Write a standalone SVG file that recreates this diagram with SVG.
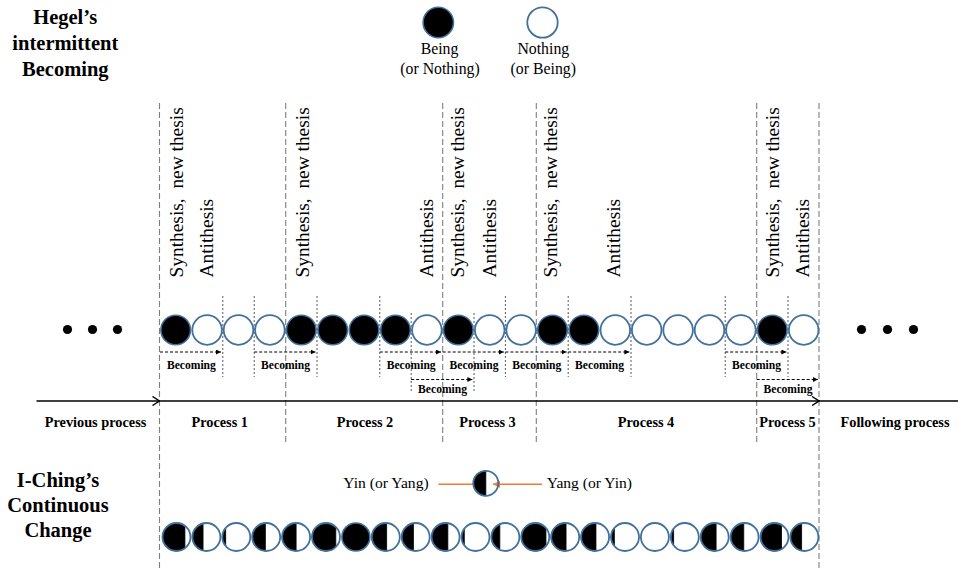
<svg xmlns="http://www.w3.org/2000/svg" width="958" height="571" viewBox="0 0 958 571">
<defs>
<style>
.title{font-family:"Liberation Serif","Times New Roman",serif;font-weight:bold;font-size:20.5px;text-anchor:middle;fill:#000}
.leg{font-family:"Liberation Serif","Times New Roman",serif;font-size:15.8px;text-anchor:middle;fill:#000}
.vt{font-family:"Liberation Serif","Times New Roman",serif;font-size:19.4px;fill:#000;white-space:pre}
.bec{font-family:"Liberation Serif","Times New Roman",serif;font-weight:bold;font-size:11.6px;text-anchor:middle;fill:#000}
.proc{font-family:"Liberation Serif","Times New Roman",serif;font-weight:bold;font-size:14.3px;text-anchor:middle;fill:#000}
.yy{font-family:"Liberation Serif","Times New Roman",serif;font-size:15.6px;fill:#000}
.pl{stroke:#7f7f7f;stroke-width:1.1;stroke-dasharray:6 3;fill:none}
.dl{stroke:#595959;stroke-width:1;stroke-dasharray:2 2;fill:none}
.ba{stroke:#000;stroke-width:1;stroke-dasharray:3 2;fill:none;marker-end:url(#tri)}
.cb{fill:#000;stroke:#41719C;stroke-width:1.6}
.cw{fill:#fff;stroke:#41719C;stroke-width:1.8}
.mo{fill:none;stroke:#41719C;stroke-width:1.8}
.mb{fill:#000;stroke:#000;stroke-width:0.8}
</style>
<marker id="tri" viewBox="0 0 6 6" refX="6" refY="3" markerWidth="5" markerHeight="5" markerUnits="userSpaceOnUse" orient="auto"><path d="M0,0 L6,3 L0,6 Z" fill="#000"/></marker>
<marker id="chev" viewBox="0 0 8 10" refX="7.5" refY="5" markerWidth="8" markerHeight="10" markerUnits="userSpaceOnUse" orient="auto"><path d="M0.5,0.5 L7.5,5 L0.5,9.5" fill="none" stroke="#000" stroke-width="1.4"/></marker>
<marker id="ora" viewBox="0 0 8 8" refX="8" refY="4" markerWidth="7" markerHeight="7" markerUnits="userSpaceOnUse" orient="auto"><path d="M0,0 L8,4 L0,8 Z" fill="#ED7D31"/></marker>
</defs>

<g id="title-hegel">
<text class="title" x="65.3" y="24">Hegel’s</text>
<text class="title" x="65.3" y="50">intermittent</text>
<text class="title" x="65.3" y="76">Becoming</text>
</g>

<g id="legend-being">
<circle cx="438.3" cy="22.5" r="15.2" class="cb"/>
<text class="leg" x="439.5" y="54">Being</text>
<text class="leg" x="440" y="74">(or Nothing)</text>
</g>
<g id="legend-nothing">
<circle cx="542.5" cy="22.5" r="15.2" class="cw"/>
<text class="leg" x="543.3" y="53.5">Nothing</text>
<text class="leg" x="543.3" y="73.5">(or Being)</text>
</g>

<g id="connectors">
<line class="pl" x1="159.5" y1="103" x2="159.5" y2="571"/>
<line class="pl" x1="285.7" y1="103" x2="285.7" y2="442"/>
<line class="pl" x1="442.7" y1="103" x2="442.7" y2="442"/>
<line class="pl" x1="536.3" y1="103" x2="536.3" y2="442"/>
<line class="pl" x1="756.7" y1="103" x2="756.7" y2="442"/>
<line class="pl" x1="819" y1="103" x2="819" y2="571"/>

<line class="dl" x1="222.8" y1="296" x2="222.8" y2="377"/>
<line class="dl" x1="254.2" y1="296" x2="254.2" y2="377"/>
<line class="dl" x1="317" y1="296" x2="317" y2="377"/>
<line class="dl" x1="379.8" y1="296" x2="379.8" y2="377"/>
<line class="dl" x1="411.2" y1="313" x2="411.2" y2="393"/>
<line class="dl" x1="474" y1="313" x2="474" y2="393"/>
<line class="dl" x1="505.4" y1="296" x2="505.4" y2="377"/>
<line class="dl" x1="568.2" y1="296" x2="568.2" y2="377"/>
<line class="dl" x1="631" y1="296" x2="631" y2="377"/>
<line class="dl" x1="725.2" y1="296" x2="725.2" y2="377"/>
<line class="dl" x1="788" y1="296" x2="788" y2="377"/>

<line class="ba" x1="160" y1="352" x2="221" y2="352"/>
<line class="ba" x1="254.2" y1="352" x2="315.5" y2="352"/>
<line class="ba" x1="379.8" y1="352" x2="441" y2="352"/>
<line class="ba" x1="442.7" y1="352" x2="503.8" y2="352"/>
<line class="ba" x1="505.4" y1="352" x2="566.6" y2="352"/>
<line class="ba" x1="568.2" y1="352" x2="629.4" y2="352"/>
<line class="ba" x1="725.2" y1="352" x2="786.4" y2="352"/>
<line class="ba" x1="411.2" y1="379.5" x2="472.4" y2="379.5"/>
<line class="ba" x1="756.7" y1="379.5" x2="817.8" y2="379.5"/>

<line x1="36.5" y1="401" x2="159.5" y2="401" stroke="#000" stroke-width="1.6" marker-end="url(#chev)"/>
<line x1="159.5" y1="401" x2="819" y2="401" stroke="#000" stroke-width="1.6" marker-end="url(#chev)"/>
<line x1="819" y1="401" x2="958" y2="401" stroke="#000" stroke-width="1.6"/>

<line x1="438.5" y1="484.3" x2="479.5" y2="484.3" stroke="#ED7D31" stroke-width="1.6" marker-end="url(#ora)"/>
<line x1="542" y1="484.3" x2="493" y2="484.3" stroke="#ED7D31" stroke-width="1.6" marker-end="url(#ora)"/>
</g>

<g id="stage-labels">
<g transform="translate(183,277.5) rotate(-90)"><text class="vt">Synthesis,  new thesis</text></g>
<g transform="translate(213,277.5) rotate(-90)"><text class="vt">Antithesis</text></g>
<g transform="translate(308.5,277.5) rotate(-90)"><text class="vt">Synthesis,  new thesis</text></g>
<g transform="translate(433,277.5) rotate(-90)"><text class="vt">Antithesis</text></g>
<g transform="translate(464,277.5) rotate(-90)"><text class="vt">Synthesis,  new thesis</text></g>
<g transform="translate(495.5,277.5) rotate(-90)"><text class="vt">Antithesis</text></g>
<g transform="translate(557,277.5) rotate(-90)"><text class="vt">Synthesis,  new thesis</text></g>
<g transform="translate(620,277.5) rotate(-90)"><text class="vt">Antithesis</text></g>
<g transform="translate(778.5,277.5) rotate(-90)"><text class="vt">Synthesis,  new thesis</text></g>
<g transform="translate(808.5,277.5) rotate(-90)"><text class="vt">Antithesis</text></g>
</g>

<g id="ellipsis-left">
<circle cx="67.5" cy="329.5" r="4.6" fill="#000"/>
<circle cx="92.5" cy="329.5" r="4.6" fill="#000"/>
<circle cx="117.5" cy="329.5" r="4.6" fill="#000"/>
</g>
<g id="ellipsis-right">
<circle cx="861.5" cy="329.5" r="4.6" fill="#000"/>
<circle cx="887.5" cy="329.5" r="4.6" fill="#000"/>
<circle cx="913.5" cy="329.5" r="4.6" fill="#000"/>
</g>

<g id="hegel-row">
<circle cx="175.7" cy="330" r="14.8" class="cb"/>
<circle cx="207.1" cy="330" r="14.8" class="cw"/>
<circle cx="238.5" cy="330" r="14.8" class="cw"/>
<circle cx="269.9" cy="330" r="14.8" class="cw"/>
<circle cx="301.3" cy="330" r="14.8" class="cb"/>
<circle cx="332.7" cy="330" r="14.8" class="cb"/>
<circle cx="364.1" cy="330" r="14.8" class="cb"/>
<circle cx="395.5" cy="330" r="14.8" class="cb"/>
<circle cx="426.9" cy="330" r="14.8" class="cw"/>
<circle cx="458.3" cy="330" r="14.8" class="cb"/>
<circle cx="489.7" cy="330" r="14.8" class="cw"/>
<circle cx="521.1" cy="330" r="14.8" class="cw"/>
<circle cx="552.5" cy="330" r="14.8" class="cb"/>
<circle cx="583.9" cy="330" r="14.8" class="cb"/>
<circle cx="615.3" cy="330" r="14.8" class="cw"/>
<circle cx="646.7" cy="330" r="14.8" class="cw"/>
<circle cx="678.1" cy="330" r="14.8" class="cw"/>
<circle cx="709.5" cy="330" r="14.8" class="cw"/>
<circle cx="740.9" cy="330" r="14.8" class="cw"/>
<circle cx="772.3" cy="330" r="14.8" class="cb"/>
<circle cx="803.7" cy="330" r="14.8" class="cw"/>
</g>

<g id="becoming-labels">
<text class="bec" x="191.4" y="369.3">Becoming</text>
<text class="bec" x="285.6" y="369.3">Becoming</text>
<text class="bec" x="411.2" y="369.3">Becoming</text>
<text class="bec" x="474" y="369.3">Becoming</text>
<text class="bec" x="536.8" y="369.3">Becoming</text>
<text class="bec" x="599.6" y="369.3">Becoming</text>
<text class="bec" x="756.6" y="369.3">Becoming</text>
<text class="bec" x="442.6" y="393.3">Becoming</text>
<text class="bec" x="788" y="393.3">Becoming</text>
</g>

<g id="process-labels">
<text class="proc" x="95.5" y="427.3">Previous process</text>
<text class="proc" x="219.7" y="427.3">Process 1</text>
<text class="proc" x="365" y="427.3">Process 2</text>
<text class="proc" x="487.5" y="427.3">Process 3</text>
<text class="proc" x="646" y="427.3">Process 4</text>
<text class="proc" x="787.5" y="427.3">Process 5</text>
<text class="proc" x="895" y="427.3">Following process</text>
</g>

<g id="title-iching">
<text class="title" x="58" y="487">I-Ching’s</text>
<text class="title" x="58" y="512">Continuous</text>
<text class="title" x="58" y="537">Change</text>
</g>

<g id="yin-yang-legend">
<text class="yy" x="343.3" y="488.3">Yin (or Yang)</text>
<g transform="translate(485.8,483.3)"><path class="mb" d="M0,-12.5 A12.5 12.5 0 0 0 0,12.5 Z"/><circle r="12.5" class="mo"/></g>
<text class="yy" x="546.7" y="488.3">Yang (or Yin)</text>
</g>

<g id="iching-row">
<g transform="translate(176.5,537)"><path class="mb" d="M8.4,-11.2 A14 14 0 1 0 8.4,11.2 Z"/><circle r="14" class="mo"/></g>
<g transform="translate(206.4,537)"><path class="mb" d="M-3.36,-13.59 A14 14 0 0 0 -3.36,13.59 Z"/><circle r="14" class="mo"/></g>
<g transform="translate(236.3,537)"><path class="mb" d="M-10.64,-9.1 A14 14 0 0 0 -10.64,9.1 Z"/><circle r="14" class="mo"/></g>
<g transform="translate(266.2,537)"><path class="mb" d="M-0.84,-13.97 A14 14 0 0 0 -0.84,13.97 Z"/><circle r="14" class="mo"/></g>
<g transform="translate(296.1,537)"><path class="mb" d="M0,-14 A14 14 0 0 0 0,14 Z"/><circle r="14" class="mo"/></g>
<g transform="translate(326,537)"><path class="mb" d="M9.8,-10 A14 14 0 1 0 9.8,10 Z"/><circle r="14" class="mo"/></g>
<g transform="translate(355.9,537)"><circle r="14" class="cb"/></g>
<g transform="translate(385.8,537)"><path class="mb" d="M0.84,-13.97 A14 14 0 1 0 0.84,13.97 Z"/><circle r="14" class="mo"/></g>
<g transform="translate(415.7,537)"><path class="mb" d="M-2.24,-13.82 A14 14 0 0 0 -2.24,13.82 Z"/><circle r="14" class="mo"/></g>
<g transform="translate(445.6,537)"><path class="mb" d="M2.24,-13.82 A14 14 0 1 0 2.24,13.82 Z"/><circle r="14" class="mo"/></g>
<g transform="translate(475.5,537)"><path class="mb" d="M-11.2,-8.4 A14 14 0 0 0 -11.2,8.4 Z"/><circle r="14" class="mo"/></g>
<g transform="translate(505.4,537)"><path class="mb" d="M-5.6,-12.83 A14 14 0 0 0 -5.6,12.83 Z"/><circle r="14" class="mo"/></g>
<g transform="translate(535.3,537)"><path class="mb" d="M10.64,-9.1 A14 14 0 1 0 10.64,9.1 Z"/><circle r="14" class="mo"/></g>
<g transform="translate(565.2,537)"><path class="mb" d="M0.84,-13.97 A14 14 0 1 0 0.84,13.97 Z"/><circle r="14" class="mo"/></g>
<g transform="translate(595.1,537)"><path class="mb" d="M0.84,-13.97 A14 14 0 1 0 0.84,13.97 Z"/><circle r="14" class="mo"/></g>
<g transform="translate(625,537)"><path class="mb" d="M-10.64,-9.1 A14 14 0 0 0 -10.64,9.1 Z"/><circle r="14" class="mo"/></g>
<g transform="translate(654.9,537)"><circle r="14" class="cw"/></g>
<g transform="translate(684.8,537)"><path class="mb" d="M-11.2,-8.4 A14 14 0 0 0 -11.2,8.4 Z"/><circle r="14" class="mo"/></g>
<g transform="translate(714.7,537)"><path class="mb" d="M1.4,-13.93 A14 14 0 1 0 1.4,13.93 Z"/><circle r="14" class="mo"/></g>
<g transform="translate(744.6,537)"><path class="mb" d="M-0.84,-13.97 A14 14 0 0 0 -0.84,13.97 Z"/><circle r="14" class="mo"/></g>
<g transform="translate(774.5,537)"><path class="mb" d="M7,-12.12 A14 14 0 1 0 7,12.12 Z"/><circle r="14" class="mo"/></g>
<g transform="translate(804.4,537)"><path class="mb" d="M-2.8,-13.72 A14 14 0 0 0 -2.8,13.72 Z"/><circle r="14" class="mo"/></g>
</g>
</svg>
